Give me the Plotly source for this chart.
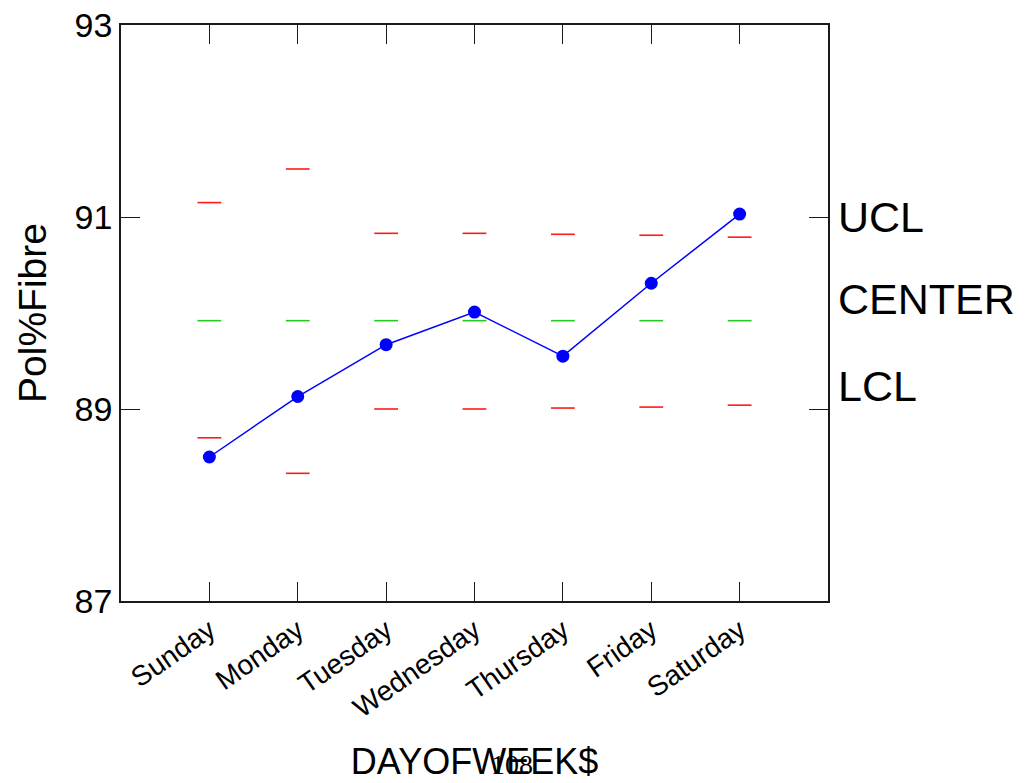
import plotly.graph_objects as go

# Day-of-week control chart for Pol%Fibre
days = ["Sunday", "Monday", "Tuesday", "Wednesday", "Thursday", "Friday", "Saturday"]
means = [88.50, 89.13, 89.67, 90.01, 89.55, 90.31, 91.03]
center = [89.92, 89.92, 89.92, 89.92, 89.92, 89.92, 89.92]
ucl = [91.15, 91.50, 90.83, 90.83, 90.82, 90.81, 90.79]
lcl = [88.70, 88.33, 89.00, 89.00, 89.01, 89.02, 89.04]
y_ticks = [87, 89, 91, 93]

FONT = "Liberation Sans, Arial, sans-serif"
AXIS = "#1a1a1a"

fig = go.Figure()

# Limit marks drawn as short horizontal dashes at each day
for vals, col in ((ucl, "#ff1a1a"), (lcl, "#ff1a1a"), (center, "#22cc22")):
    fig.add_trace(go.Scatter(
        x=days, y=vals, mode="markers", showlegend=False, hoverinfo="skip",
        marker=dict(symbol="line-ew", size=17, line=dict(color=col, width=1.6)),
    ))

# Daily means
fig.add_trace(go.Scatter(
    x=days, y=means, mode="lines+markers", showlegend=False,
    line=dict(color="#0000ff", width=1.5),
    marker=dict(color="#0000ff", size=13),
))

fig.update_layout(
    width=1025, height=783,
    margin=dict(l=121, r=197, t=25, b=182),
    paper_bgcolor="white", plot_bgcolor="white",
    font=dict(family=FONT, color="black"),
    xaxis=dict(
        type="category", range=[-1, 7], automargin=False,
        showline=True, linecolor=AXIS, linewidth=1.6, mirror="ticks",
        ticks="inside", ticklen=19, tickwidth=1.2, tickcolor=AXIS,
        tickangle=-35, tickfont=dict(size=28, family=FONT),
        showgrid=False, zeroline=False,
        title=dict(text="DAYOFWEEK$", font=dict(size=36, family=FONT), standoff=26),
    ),
    yaxis=dict(
        range=[87, 93], tickvals=y_ticks, ticktext=[str(v) for v in y_ticks],
        automargin=False,
        showline=True, linecolor=AXIS, linewidth=1.6, mirror="ticks",
        ticks="inside", ticklen=19, tickwidth=1.2, tickcolor=AXIS,
        tickfont=dict(size=34, family=FONT),
        showgrid=False, zeroline=False,
        title=dict(text="Pol%Fibre", font=dict(size=39, family=FONT), standoff=16),
    ),
)

# Limit names beside the plot area
for txt, yv in (("UCL", 91.0), ("CENTER", 90.15), ("LCL", 89.24)):
    fig.add_annotation(
        text=txt, xref="paper", yref="y", x=1.0, y=yv,
        xanchor="left", yanchor="middle", xshift=8, showarrow=False,
        font=dict(size=43, family=FONT, color="black"),
    )

fig.add_annotation(
    text="108", xref="paper", yref="paper", x=0.553, y=-0.283,
    xanchor="center", yanchor="middle", showarrow=False,
    font=dict(size=28, family="Liberation Serif, Times New Roman, serif", color="black"),
)

fig.write_html("out.html")
